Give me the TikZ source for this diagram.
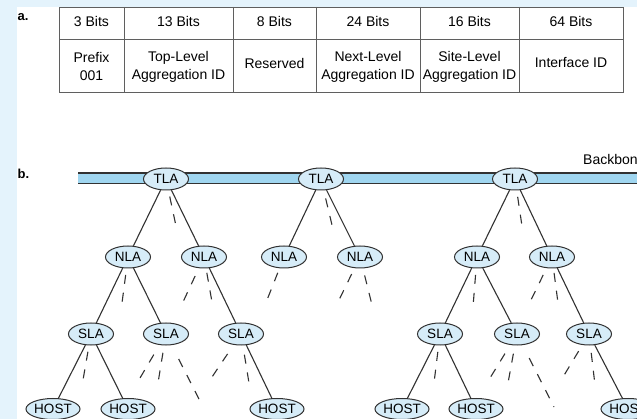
\documentclass[tikz,border=0pt]{standalone}
\usepackage{fontspec}
\setmainfont{Liberation Sans}
\usetikzlibrary{shapes.geometric}
\definecolor{pagebg}{RGB}{228,243,252}
\definecolor{barblue}{RGB}{160,214,240}
\definecolor{nodeblue}{RGB}{214,236,248}
\definecolor{inkgray}{RGB}{50,50,50}
\definecolor{rulegray}{RGB}{95,95,95}

\begin{document}
\begin{tikzpicture}[x=1pt,y=-1pt,
  lvl/.style={ellipse,draw=inkgray,fill=nodeblue,line width=1pt,inner sep=0pt,
    minimum width=45pt,minimum height=22pt,font=\fontsize{13.5}{15}\selectfont},
  hostnode/.style={lvl,minimum width=54pt,minimum height=21pt},
  link/.style={draw=inkgray,line width=1.1pt},
  stub/.style={draw=inkgray,line width=1.1pt,dash pattern=on 9pt off 9pt},
  cell/.style={font=\fontsize{14}{18}\selectfont,align=center,inner sep=0pt},
  tag/.style={font=\bfseries\fontsize{13}{15}\selectfont,anchor=base west,inner sep=0pt}]
\useasboundingbox (0,0) rectangle (637,419);
\clip (0,0) rectangle (637,419);
\fill[pagebg] (0,0) rectangle (637,419);
\fill[white] (17,7) rectangle (637,419);

\node[tag] (lbla) at (17.5,21) {a.};
\node[tag] (lblb) at (17.5,179) {b.};

% address layout
\draw[rulegray,line width=0.9pt] (59,7) rectangle (623,92);
\draw[rulegray,line width=0.9pt] (59,39) -- (623,39);
\foreach \x in {124,233,316,420,519}
  \draw[rulegray,line width=0.9pt] (\x,7) -- (\x,92);
\foreach \cx/\b/\y/\f [count=\i] in {91.5/3/67/{Prefix\\001},
    178.5/13/67/{Top-Level\\Aggregation ID},274.5/8/63/{Reserved},
    368/24/67/{Next-Level\\Aggregation ID},469.5/16/67/{Site-Level\\Aggregation ID},
    571/64/63/{Interface ID}} {
  \node[cell] (bits\i) at (\cx,22) {\b\ Bits};
  \node[cell] (field\i) at (\cx,\y) {\f};
}

% backbone
\fill[barblue] (78,173) rectangle (640,183.5);
\draw[inkgray,line width=2pt] (78,173) -- (640,173);
\draw[inkgray,line width=0.9pt] (78,183.5) -- (640,183.5);
\node[anchor=base west,inner sep=0pt,font=\fontsize{14}{16}\selectfont] (bbone) at (583,165) {Backbone};

\foreach \x [count=\i] in {166,321,515}
  \node[lvl] (tla\i) at (\x,179) {TLA};
\foreach \x [count=\i] in {128,204,284,360,477,552}
  \node[lvl] (nla\i) at (\x,257) {NLA};
\foreach \x [count=\i] in {91,166,241,440,517,589}
  \node[lvl] (sla\i) at (\x,334) {SLA};
\foreach \x [count=\i] in {53,128,277,402,476,628}
  \node[hostnode] (host\i) at (\x,409) {HOST};

\foreach \a/\b in {tla1/nla1,tla1/nla2,tla2/nla3,tla2/nla4,tla3/nla5,tla3/nla6,
    nla1/sla1,nla1/sla2,nla2/sla3,nla5/sla4,nla5/sla5,nla6/sla6,
    sla1/host1,sla1/host2,sla3/host3,sla4/host4,sla4/host5,sla6/host6}
  \draw[link] (\a) -- (\b);

\foreach \n/\dx/\dy/\s in {tla1/10/47/18,tla2/11/46/20,tla3/7/47/18,
    nla1/-6/46/18,nla2/-21/45/21,nla2/8/45/16,nla3/-17/43/17,
    nla4/-22/45/19,nla4/12/48/19,nla5/-4/50/18,nla6/-22/45/20,nla6/6/46/16,
    sla1/-8/46/18,sla2/-26/44/24,sla2/-8/49/19,sla2/37/73/28,
    sla3/-29/43/24,sla3/8/49/21,sla4/-6/49/18,
    sla5/-27/44/23,sla5/-9/49/20,sla5/37/73/27,sla6/-26/43/20,sla6/6/51/19}
  \draw[stub,shorten <=\s pt] (\n.center) -- ++(\dx,\dy);
\end{tikzpicture}
\end{document}
